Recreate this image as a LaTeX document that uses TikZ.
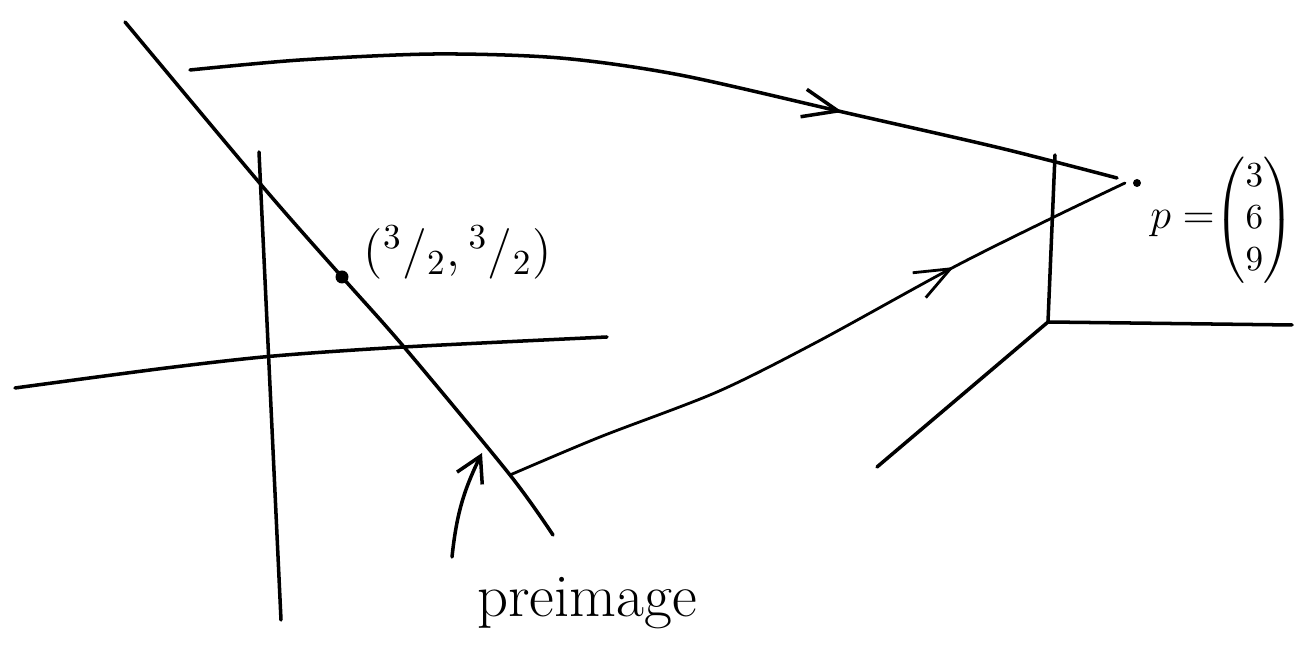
\documentclass[tikz,border=0pt]{standalone}
\usepackage{xcolor}
\usepackage{tikz}
\usepackage{amsmath}
\usetikzlibrary{calc,arrows.meta,decorations.markings}

\begin{document}
\begin{tikzpicture}[line width=1pt,line cap=round,line join=round,
			>={Straight Barb[length=10pt,width=8pt]},
			dot/.style={circle,fill,inner sep=0pt,minimum size=#1},
			midarrow/.style={postaction={decorate},decoration={markings,mark=at position #1 with {\arrow{>}}}}]
			\useasboundingbox (0,0) rectangle (12.98,-6.45);
			\coordinate (ltop) at (1.25,-0.22);
			\coordinate (lbot) at (5.53,-5.35);
			\coordinate (pre) at (5.10,-4.75);
			\node[dot=0.13cm] (pt) at (3.42,-2.77) {};
			\draw plot[smooth] coordinates {(ltop) (2.63,-1.87) (pt) (4.04,-3.47) (pre) (lbot)};
			\draw (2.59,-1.52) -- (2.81,-6.20);
			\draw plot[smooth] coordinates {(0.15,-3.88) (1.66,-3.68) (2.74,-3.56) (4.04,-3.47) (6.07,-3.37)};
			\node[anchor=base west,inner sep=0pt] (ptlabel) at ($(pt)+(0.2,0.1)$) {\Large $({}^3/_2,{}^3/_2)$};
			\coordinate (o) at (10.48,-3.22);
			\draw (10.55,-1.55) -- (o) -- (12.92,-3.25);
			\draw (o) -- (8.77,-4.67);
			\node[dot=0.08cm] (p) at (11.37,-1.83) {};
			\node[anchor=west,inner sep=1pt] (plabel) at (11.45,-2.2) {{\large$p=$}$\begin{pmatrix}3\\6\\9\end{pmatrix}$};
			\coordinate (topstart) at (1.90,-0.70);
			\coordinate (topend) at (11.17,-1.78);
			\draw[midarrow=0.70] plot[smooth] coordinates {(topstart) (3.00,-0.60) (4.35,-0.54) (5.60,-0.58) (6.80,-0.75) (8.47,-1.13) (10.00,-1.48) (topend)};
			\coordinate (lowend) at (11.25,-1.83);
			\draw[line width=0.8pt,midarrow=0.72] plot[smooth] coordinates {(pre) (6.00,-4.37) (7.17,-3.92) (8.17,-3.42) (9.52,-2.68) (10.52,-2.18) (lowend)};
			\node[anchor=base] (prelabel) at (5.87,-6.17) {\LARGE preimage};
			\coordinate (prestart) at (4.52,-5.57);
			\coordinate (pretip) at (4.82,-4.53);
			\draw[->,>={Straight Barb[length=7pt,width=8pt]}] (prestart) to[bend left=10] (pretip);
		\end{tikzpicture}
\end{document}
